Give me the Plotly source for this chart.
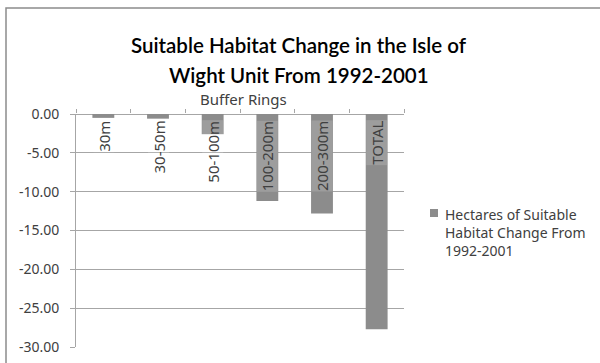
import plotly.graph_objects as go

categories = ["30m", "30-50m", "50-100m", "100-200m", "200-300m", "TOTAL"]
values = [-0.5, -0.6, -2.6, -11.2, -12.8, -27.7]
series_name = "Hectares of Suitable<br>Habitat Change From<br>1992-2001"
title_lines = ["Suitable Habitat Change in the Isle of", "Wight Unit From 1992-2001"]
subtitle_text = "Buffer Rings"
ytick_vals = [0, -5, -10, -15, -20, -25, -30]

W, H = 600, 363
L, R, T, B = 76, 196, 114, 16
pw = W - L - R
ph = H - T - B

def px_x(p):
    return (p - L) / pw

def px_y(p):
    return (H - B - p) / ph

txt = "#404040"
bar_color = "#8c8c8c"
grid_color = "#a6a6a6"
font_main = "Noto Sans"

fig = go.Figure()
fig.add_trace(go.Bar(
    x=categories, y=values, name=series_name,
    marker=dict(color=bar_color, line=dict(width=0)),
    width=0.4, showlegend=False,
))

annotations = []
for c in categories:
    annotations.append(dict(
        x=c, y=0, xref="x", yref="y", text=c, showarrow=False,
        textangle=-90, xanchor="center", yanchor="top", yshift=-6,
        font=dict(family=font_main, size=15, color=txt),
        bgcolor="rgba(255,255,255,0.15)", borderpad=0,
    ))
annotations.append(dict(
    x=px_x(243), y=px_y(99), xref="paper", yref="paper", text=subtitle_text,
    showarrow=False, xanchor="center", yanchor="middle",
    font=dict(family=font_main, size=15, color=txt),
))
for i, line in enumerate(title_lines):
    annotations.append(dict(
        x=px_x(299), y=px_y(45 + 30 * i), xref="paper", yref="paper", text=line,
        showarrow=False, xanchor="center", yanchor="middle",
        font=dict(family="Lato", size=20.5, color="black", weight=600),
    ))
# legend (manual, to match spacing)
annotations.append(dict(
    x=px_x(443), y=px_y(203), xref="paper", yref="paper", text=series_name,
    showarrow=False, xanchor="left", yanchor="top", align="left",
    font=dict(family=font_main, size=14, color=txt),
))

fig.update_layout(
    width=W, height=H,
    margin=dict(l=L, r=R, t=T, b=B, autoexpand=False),
    paper_bgcolor="white", plot_bgcolor="white",
    xaxis=dict(side="top", showticklabels=False, showgrid=False, zeroline=False,
               showline=False, ticks="outside", ticklen=4, tickcolor=grid_color,
               tickson="boundaries", automargin=False),
    yaxis=dict(range=[-30, 0], tickvals=ytick_vals,
               ticktext=[f"{v:.2f}" for v in ytick_vals],
               showgrid=True, gridcolor=grid_color, gridwidth=1,
               zeroline=True, zerolinecolor=grid_color, zerolinewidth=1,
               showline=True, linecolor=grid_color, linewidth=1,
               ticks="outside", ticklen=5, tickcolor=grid_color,
               ticklabelstandoff=8, automargin=False,
               tickfont=dict(family=font_main, size=14, color=txt)),
    annotations=annotations,
    showlegend=False,
)
fig.add_shape(type="rect", xref="paper", yref="paper",
              x0=px_x(6), x1=px_x(620), y0=px_y(380), y1=px_y(8),
              line=dict(color="#8c8c8c", width=1.5), layer="below")
fig.add_shape(type="rect", xref="paper", yref="paper",
              x0=px_x(430), x1=px_x(438), y0=px_y(217), y1=px_y(209),
              fillcolor=bar_color, line=dict(width=0))

fig.write_html("out.html")
